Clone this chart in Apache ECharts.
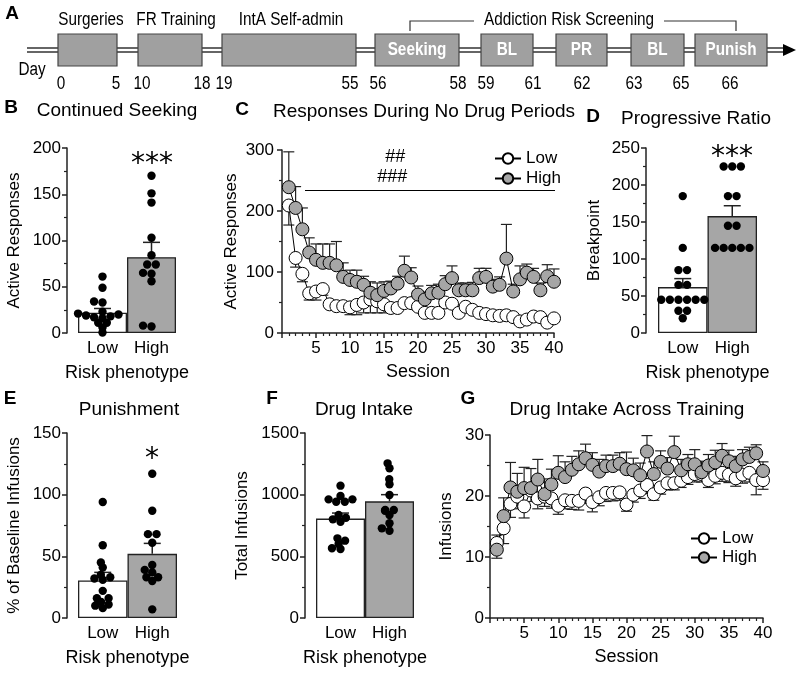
<!DOCTYPE html>
<html>
<head>
<meta charset="utf-8">
<script src="https://cdn.jsdelivr.net/npm/echarts@6/dist/echarts.min.js"></script>
<style>
  html, body { margin: 0; background: #fff; }
  #chart { width: 800px; height: 675px; }
</style>
</head>
<body>
<div id="chart"></div>
<script>
const groups = ['Low', 'High'];

// B - continued seeking (active responses)
const seekLow = [61, 49, 33, 34, 23, 21, 20, 17, 16, 18, 19, 11, 11, 6, 0.5];
const seekHigh = [170, 151, 141, 103, 84, 74, 74, 64, 65, 56, 7, 8];
const seekMean = [22, 82];
const seekSem = [4.5, 16];

// D - progressive ratio breakpoint
const prLow = [185, 115, 85, 85, 65, 65, 45, 45, 45, 45, 45, 45, 30, 30, 20];
const prHigh = [225, 225, 225, 185, 185, 145, 145, 115, 115, 115, 115, 115];
const prMean = [62, 158];
const prSem = [11.5, 14];

// E - punishment, % of baseline infusions
const punLow = [94, 59, 45, 41, 33, 31, 32, 35, 22, 16, 16, 11, 8, 10, 13];
const punHigh = [117, 87, 68, 68, 61, 43, 37, 33, 30, 33, 39, 7];
const punMean = [30.5, 52];
const punSem = [6.5, 8.5];

// F - total infusions
const intakeLow = [1073, 989, 962, 943, 943, 962, 835, 800, 781, 813, 646, 600, 560, 565, 627];
const intakeHigh = [1214, 1254, 1125, 1084, 997, 876, 870, 835, 876, 768, 708, 727];
const intakeMean = [806, 946];
const intakeSem = [45, 54];

// C - responses during no drug periods, sessions 1..40
const sessions = Array.from({ length: 40 }, (_, i) => i + 1);
const noDrugLow = [209, 123, 97, 65, 68, 72, 47, 44, 44, 42, 46, 50, 55, 52, 47, 41, 41, 49, 49, 43,
  33, 33, 33, 50, 48, 33, 43, 38, 33, 31, 29, 28, 29, 26, 19, 22, 27, 26, 17, 24];
const noDrugLowSem = [32, 15, 13, 11, 14, 10, 5, 5, 5, 12, 16, 17, 22, 19, 14, 6, 5, 6, 6, 6,
  5, 5, 5, 7, 7, 5, 5, 4, 4, 4, 4, 4, 4, 4, 3, 3, 4, 4, 3, 4];
const noDrugHigh = [239, 205, 170, 132, 120, 115, 115, 111, 92, 87, 84, 79, 66, 62, 69, 73, 81, 102, 91, 63,
  55, 65, 66, 80, 90, 70, 70, 70, 90, 92, 76, 79, 122, 68, 88, 99, 92, 70, 93, 84];
const noDrugHighSem = [58, 35, 35, 24, 26, 31, 31, 39, 23, 16, 19, 14, 18, 20, 15, 12, 12, 24, 16, 14,
  12, 13, 14, 14, 20, 12, 12, 13, 16, 14, 12, 13, 56, 12, 22, 14, 14, 12, 19, 21];

// G - infusions across training
const trainLow = [12.3, 14.7, 18.7, 19.9, 18.3, 20.9, 19.6, 19.9, 19.6, 18.4, 19.3, 19.2, 19.2, 20.4, 19.0, 19.8, 20.5, 20.5, 20.6, 18.6,
  20.2, 20.9, 21.8, 20.3, 21.4, 22.1, 22.1, 22.5, 23.1, 23.6, 23.6, 22.6, 23.3, 23.8, 23.5, 22.9, 23.5, 23.8, 22.6, 22.6];
const trainLowSem = [2.5, 2.5, 2.2, 2.0, 1.9, 1.8, 1.7, 1.6, 1.6, 1.4, 1.4, 1.4, 1.5, 1.6, 1.6, 1.4, 1.4, 1.3, 1.3, 1.1,
  1.2, 1.3, 1.4, 1.0, 1.1, 1.1, 1.1, 1.1, 1.2, 1.3, 1.3, 1.2, 1.3, 1.4, 1.3, 1.3, 1.4, 1.5, 2.4, 1.5];
const trainHigh = [11.2, 16.7, 21.4, 20.7, 21.3, 21.3, 22.7, 20.3, 21.9, 23.8, 23.1, 24.3, 25.2, 26.2, 25.1, 24.0, 24.9, 24.9, 25.3, 24.4,
  24.2, 23.4, 27.3, 23.6, 25.6, 24.5, 27.2, 24.2, 25.2, 25.2, 23.9, 25.0, 25.5, 26.6, 25.7, 24.9, 26.0, 26.4, 27.0, 24.1];
const trainHighSem = [2.4, 3.0, 4.1, 3.0, 3.4, 3.2, 3.3, 2.5, 2.5, 2.8, 2.5, 2.2, 2.2, 2.3, 2.0, 2.0, 1.8, 1.8, 1.8, 2.8,
  2.0, 2.0, 2.6, 2.0, 1.8, 1.8, 2.6, 1.8, 1.6, 2.4, 1.8, 1.8, 2.0, 2.0, 1.8, 1.6, 1.6, 1.6, 1.4, 1.5];

// A - timeline text
const phaseTitles = ['Surgeries', 'FR Training', 'IntA Self-admin'];
const boxLabels = ['', '', '', 'Seeking', 'BL', 'PR', 'BL', 'Punish'];
const dayLabels = ['0', '5', '10', '18', '19', '55', '56', '58', '59', '61', '62', '63', '65', '66'];

// layout of the timeline (pixels)
const titleX = [91, 176, 291];
const boxX = [[58, 117], [138, 202], [222, 356], [375, 459], [481, 533], [556, 607], [631, 684], [695, 767]];
const dayX = [61, 116, 142, 202, 224, 350, 378, 458, 486, 533, 582, 634, 681, 730];

const FONT = '"Liberation Sans", Arial, sans-serif';
const GREY = '#a6a6a6';
const INK = '#222';

const chart = echarts.init(document.getElementById('chart'));

// simple beeswarm: horizontal pixel offsets so dots don't overlap too much
function swarm(vals, pxPerUnit, d) {
  const vf = 1.7; // rows may sit a little closer than one dot
  const order = vals.map((v, i) => i).sort((a, b) => vals[a] - vals[b]);
  const placed = [];
  const off = new Array(vals.length);
  order.forEach(i => {
    const y = vals[i] * pxPerUnit * vf;
    const near = placed.filter(p => Math.abs(p.y - y) < d);
    const cands = [0];
    near.forEach(p => {
      const dx = Math.sqrt(d * d - (p.y - y) * (p.y - y));
      cands.push(p.x + dx, p.x - dx);
    });
    cands.sort((a, b) => Math.abs(a) - Math.abs(b) || a - b);
    const x = cands.find(c => near.every(p => (p.x - c) ** 2 + (p.y - y) ** 2 >= d * d - 0.01));
    off[i] = x;
    placed.push({ x, y });
  });
  // centre rows of identical values
  const seen = {};
  vals.forEach((v, i) => { (seen[v] = seen[v] || []).push(i); });
  Object.values(seen).forEach(idx => {
    if (idx.length < 2) return;
    const m = idx.reduce((s, i) => s + off[i], 0) / idx.length;
    idx.forEach(i => { off[i] -= m; });
  });
  return off;
}

const grids = [];
const xAxes = [];
const yAxes = [];
const series = [];

function yAxisCfg(gi, max, interval, name, offset, nameGap) {
  return {
    type: 'value', gridIndex: gi, min: 0, max, interval, offset,
    splitLine: { show: false },
    axisLine: { show: true, lineStyle: { color: INK, width: 1.5 } },
    axisTick: { show: true, length: 5, lineStyle: { color: INK, width: 1.5 } },
    minorTick: { show: true, splitNumber: 2, length: 3, lineStyle: { color: INK, width: 1.2 } },
    axisLabel: { fontSize: 17, color: '#000', margin: 6, fontFamily: FONT, formatter: v => String(v) },
    name, nameLocation: 'middle', nameGap,
    nameTextStyle: { fontSize: 17, color: '#000', fontFamily: FONT }
  };
}

function errorSeries(gi, rows, cap, lw) {
  return {
    type: 'custom', xAxisIndex: gi, yAxisIndex: gi, z: 3, silent: true,
    data: rows,
    renderItem: (params, api) => {
      const x = api.value(0), m = api.value(1), s = api.value(2), dir = api.value(3);
      const p0 = api.coord([x, m]);
      const p1 = api.coord([x, m + dir * s]);
      const st = { stroke: INK, lineWidth: lw };
      return {
        type: 'group', children: [
          { type: 'line', shape: { x1: p0[0], y1: p0[1], x2: p1[0], y2: p1[1] }, style: st },
          { type: 'line', shape: { x1: p1[0] - cap / 2, y1: p1[1], x2: p1[0] + cap / 2, y2: p1[1] }, style: st }
        ]
      };
    }
  };
}

function barPanel(box, max, interval, yName, offset, nameGap, low, high, mean, sem) {
  const gi = grids.length;
  grids.push(box);
  xAxes.push({
    type: 'category', gridIndex: gi, data: groups,
    axisLine: { show: false }, axisTick: { show: false },
    axisLabel: { fontSize: 17, color: '#000', margin: 7, fontFamily: FONT },
    name: 'Risk phenotype', nameLocation: 'middle', nameGap: 31,
    nameTextStyle: { fontSize: 18, color: '#000', fontFamily: FONT }
  });
  yAxes.push(yAxisCfg(gi, max, interval, yName, offset, nameGap));
  series.push({
    type: 'bar', xAxisIndex: gi, yAxisIndex: gi, barCategoryGap: '0%', z: 2, silent: true,
    itemStyle: { borderColor: INK, borderWidth: 1.3 },
    data: mean.map((m, i) => ({ value: m, itemStyle: { color: i === 0 ? '#fff' : GREY } }))
  });
  series.push(errorSeries(gi, mean.map((m, i) => [i, m, sem[i], 1]), 17, 1.5));
  const k = box.height / max;
  [low, high].forEach((vals, cat) => {
    const off = swarm(vals, k, 8.6);
    series.push({
      type: 'custom', xAxisIndex: gi, yAxisIndex: gi, z: 5, silent: true,
      data: vals.map((v, i) => [cat, v, off[i]]),
      renderItem: (params, api) => {
        const p = api.coord([api.value(0), api.value(1)]);
        return { type: 'circle', shape: { cx: p[0] + api.value(2), cy: p[1], r: 4.2 }, style: { fill: '#000' } };
      }
    });
  });
}

function linePanel(box, max, interval, yName, offset, nameGap, low, lowSem, high, highSem) {
  const gi = grids.length;
  grids.push(box);
  xAxes.push({
    type: 'value', gridIndex: gi, min: 0, max: 40, interval: 5,
    splitLine: { show: false },
    axisLine: { show: true, onZero: false, lineStyle: { color: INK, width: 1.5 } },
    axisTick: { show: true, length: 5, lineStyle: { color: INK, width: 1.5 } },
    minorTick: { show: true, splitNumber: 5, length: 3, lineStyle: { color: INK, width: 1.2 } },
    axisLabel: { fontSize: 17, color: '#000', margin: 7, fontFamily: FONT, formatter: v => (v === 0 ? '' : String(v)) },
    name: 'Session', nameLocation: 'middle', nameGap: 30,
    nameTextStyle: { fontSize: 18, color: '#000', fontFamily: FONT }
  });
  yAxes.push(yAxisCfg(gi, max, interval, yName, offset, nameGap));
  series.push(errorSeries(gi, sessions.map((s, i) => [s, low[i], lowSem[i], -1]), 11, 1.2));
  series.push(errorSeries(gi, sessions.map((s, i) => [s, high[i], highSem[i], 1]), 11, 1.2));
  [['Low', low, '#fff'], ['High', high, GREY]].forEach(([name, vals, fill]) => {
    series.push({
      type: 'line', name, xAxisIndex: gi, yAxisIndex: gi, z: 4, silent: true,
      data: sessions.map((s, i) => [s, vals[i]]),
      symbol: 'circle', symbolSize: 13, showAllSymbol: true,
      lineStyle: { color: '#000', width: 1 },
      itemStyle: { color: fill, borderColor: '#000', borderWidth: 1 }
    });
  });
}

barPanel({ left: 78, top: 148, width: 98, height: 185 }, 200, 50, 'Active Responses', 11, 44, seekLow, seekHigh, seekMean, seekSem);
linePanel({ left: 282, top: 150, width: 272, height: 183 }, 300, 100, 'Active Responses', 2, 40, noDrugLow, noDrugLowSem, noDrugHigh, noDrugHighSem);
barPanel({ left: 658, top: 148, width: 99, height: 185 }, 250, 50, 'Breakpoint', 12, 43, prLow, prHigh, prMean, prSem);
barPanel({ left: 78, top: 433, width: 99, height: 185 }, 150, 50, '% of Baseline Infusions', 11, 44, punLow, punHigh, punMean, punSem);
barPanel({ left: 316, top: 433, width: 98, height: 185 }, 1500, 500, 'Total Infusions', 11, 54, intakeLow, intakeHigh, intakeMean, intakeSem);
linePanel({ left: 490, top: 435, width: 273, height: 183 }, 30, 10, 'Infusions', 0, 35, trainLow, trainLowSem, trainHigh, trainHighSem);

// static drawing: timeline, panel letters, titles, significance marks
function txt(x, y, text, size, opts) {
  const o = opts || {};
  return {
    type: 'text', x, y, silent: true, scaleX: o.sx || 1,
    style: {
      text, fill: o.fill || '#000',
      font: (o.bold ? 'bold ' : '') + (o.italic ? 'italic ' : '') + size + 'px ' + (o.family || FONT),
      textAlign: o.align || 'center', textVerticalAlign: 'middle',
      align: o.align || 'center', verticalAlign: 'middle'
    }
  };
}
const g = [];
// timeline axis: double line + arrow head
g.push({ type: 'line', silent: true, shape: { x1: 27, y1: 48, x2: 786, y2: 48 }, style: { stroke: '#333', lineWidth: 1.3 } });
g.push({ type: 'line', silent: true, shape: { x1: 27, y1: 52, x2: 786, y2: 52 }, style: { stroke: '#333', lineWidth: 1.3 } });
g.push({ type: 'polygon', silent: true, shape: { points: [[783, 44], [796, 50], [783, 56]] }, style: { fill: '#000' } });
boxX.forEach(([a, b], i) => {
  g.push({ type: 'rect', silent: true, shape: { x: a, y: 34, width: b - a, height: 32 }, style: { fill: '#a0a0a0', stroke: '#444', lineWidth: 1.2 } });
  if (boxLabels[i]) g.push(txt((a + b) / 2, 50, boxLabels[i], 18, { bold: true, fill: '#fff', sx: 0.85 }));
});
phaseTitles.forEach((t, i) => g.push(txt(titleX[i], 20, t, 18, { sx: 0.85 })));
g.push({ type: 'polyline', silent: true, shape: { points: [[410, 31], [410, 21], [474, 21]] }, style: { stroke: '#333', lineWidth: 1.2, fill: null } });
g.push({ type: 'polyline', silent: true, shape: { points: [[664, 21], [736, 21], [736, 31]] }, style: { stroke: '#333', lineWidth: 1.2, fill: null } });
g.push(txt(569, 20, 'Addiction Risk Screening', 18, { sx: 0.85 }));
g.push(txt(32, 70, 'Day', 18, { sx: 0.85 }));
dayLabels.forEach((d, i) => g.push(txt(dayX[i], 84, d, 18, { sx: 0.85 })));

// panel letters
[['A', 12, 14], ['B', 11, 108], ['C', 242, 110], ['D', 593, 117], ['E', 10, 399], ['F', 272, 399], ['G', 468, 399]]
  .forEach(([l, x, y]) => g.push(txt(x, y, l, 19, { bold: true })));
// panel titles
[['Continued Seeking', 117, 111], ['Responses During No Drug Periods', 424, 112], ['Progressive Ratio', 696, 119],
 ['Punishment', 129, 410], ['Drug Intake', 364, 410], ['Drug Intake Across Training', 627, 410]]
  .forEach(([t, x, y]) => g.push(txt(x, y, t, 19)));
// significance
const STAR = '"DejaVu Sans", sans-serif';
g.push(txt(152, 165, '***', 28, { family: STAR }));
g.push(txt(732, 158, '***', 28, { family: STAR }));
g.push(txt(152, 460, '*', 28, { family: STAR }));
g.push(txt(395, 157, '##', 18, { italic: true }));
g.push(txt(392, 177, '###', 18, { italic: true }));
g.push({ type: 'line', silent: true, shape: { x1: 305, y1: 190.5, x2: 555, y2: 190.5 }, style: { stroke: '#000', lineWidth: 1.2 } });

const legendBase = {
  data: ['Low', 'High'], orient: 'vertical', itemWidth: 26, itemHeight: 13, selectedMode: false,
  textStyle: { fontSize: 17, color: '#000', fontFamily: FONT }
};

chart.setOption({
  animation: false,
  textStyle: { fontFamily: FONT },
  grid: grids,
  xAxis: xAxes,
  yAxis: yAxes,
  legend: [
    Object.assign({ left: 489, top: 145, itemGap: 3 }, legendBase),
    Object.assign({ left: 685, top: 525, itemGap: 2 }, legendBase)
  ],
  series,
  graphic: g
});
</script>
</body>
</html>
